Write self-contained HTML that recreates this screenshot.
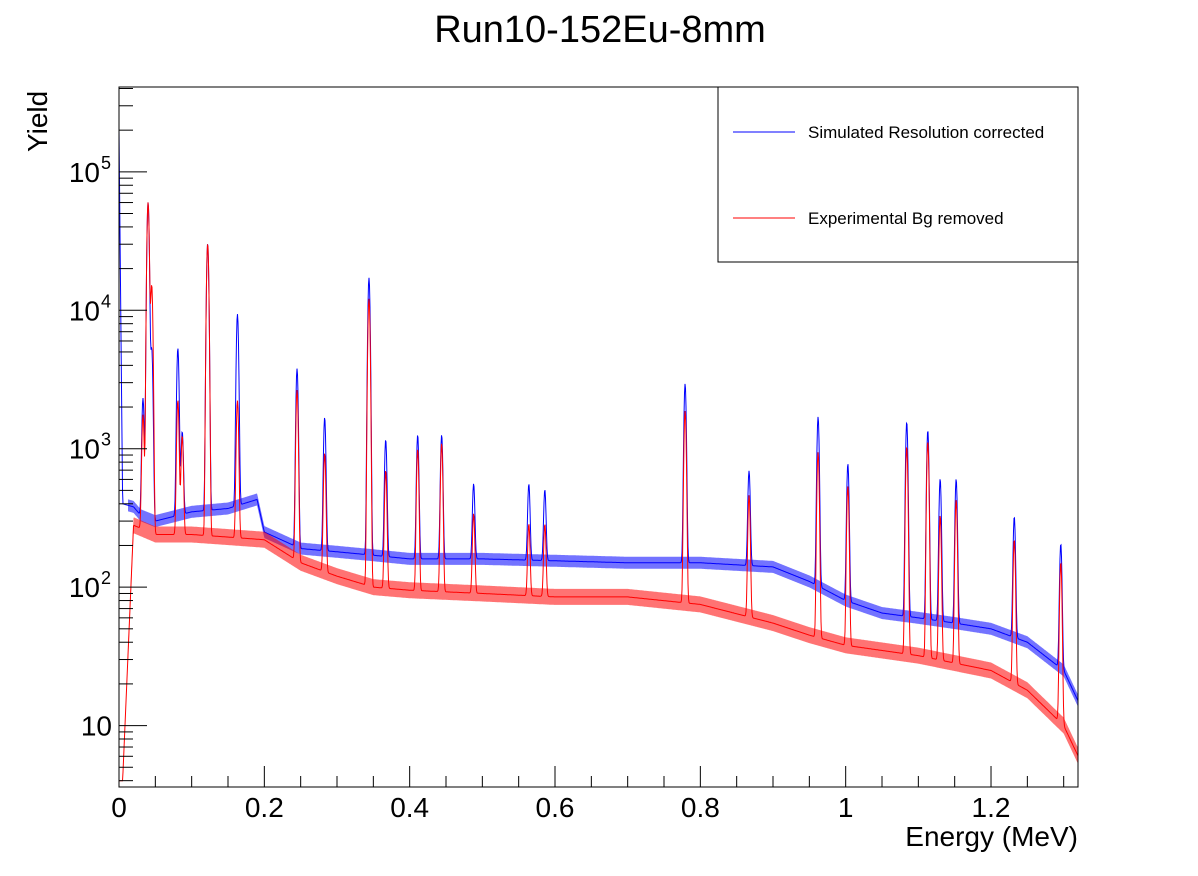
<!DOCTYPE html>
<html><head><meta charset="utf-8"><style>
body{margin:0;background:#fff;}
svg{display:block;font-family:"Liberation Sans",sans-serif;}
</style></head><body>
<svg id="chart" width="1198" height="876">
<text x="600" y="42" font-size="38" text-anchor="middle">Run10-152Eu-8mm</text>
<g id="plot"></g>
<rect x="119" y="87" width="959" height="700" fill="none" stroke="#000" stroke-width="1"/>
<g id="axes"></g>
<text x="1078" y="846" font-size="28" text-anchor="end">Energy (MeV)</text>
<text transform="translate(47,152) rotate(-90)" font-size="28">Yield</text>
<g>
<rect x="718" y="87" width="360" height="175" fill="#fff" stroke="#000"/>
<line x1="733" y1="132" x2="795" y2="132" stroke="#00f"/>
<text x="808" y="138" font-size="17">Simulated Resolution corrected</text>
<line x1="733" y1="218" x2="795" y2="218" stroke="#f00"/>
<text x="808" y="224" font-size="17">Experimental Bg removed</text>
</g>
</svg>
<script>
const blueBaseE=[0,0.005,0.02,0.03,0.05,0.1,0.15,0.19,0.2,0.25,0.3,0.35,0.4,0.5,0.6,0.7,0.8,0.9,0.95,1.0,1.05,1.1,1.15,1.2,1.25,1.3,1.32];
const blueBaseV=[2e5,400,380,330,300,350,370,430,250,190,180,170,160,160,155,150,150,140,110,80,65,60,55,50,40,25,15];
const redBaseE=[0,0.005,0.02,0.05,0.1,0.15,0.2,0.25,0.3,0.35,0.4,0.5,0.6,0.7,0.8,0.9,0.95,1.0,1.1,1.2,1.25,1.3,1.32];
const redBaseV=[4,4,280,240,240,230,220,150,120,100,95,90,85,85,75,55,45,38,32,25,18,10,6];
const peakE=[0.033,0.040,0.045,0.081,0.087,0.122,0.163,0.245,0.283,0.344,0.367,0.411,0.444,0.488,0.564,0.586,0.779,0.867,0.962,1.003,1.084,1.113,1.130,1.152,1.232,1.296];
const bluePeak=[2000,60000,5000,5000,1000,30000,9000,3600,1500,17000,1000,1100,1100,400,400,350,2800,550,1600,700,1500,1300,550,550,280,180];
const redPeak=[1500,60000,15000,2000,1000,30000,2000,2500,800,12000,600,900,1000,250,200,200,1800,400,900,500,1000,1100,300,400,200,140];
const xTicks=[0,0.2,0.4,0.6,0.8,1,1.2];
const xTickLabels=["0","0.2","0.4","0.6","0.8","1","1.2"];
const yTicks=[10,100,1000,10000,100000];
const yTickExp=["","2","3","4","5"];

const X0=119,X1=1078,Y0=787,Y1=87,XMAX=1.3197,LMIN=Math.log10(3.6),LMAX=Math.log10(4.1e5);
const sx=e=>X0+e/XMAX*(X1-X0);
const sy=v=>Y0-(Math.log10(Math.max(v,3.6))-LMIN)/(LMAX-LMIN)*(Y0-Y1);
const NS="http://www.w3.org/2000/svg";
function mk(t,a,p){const el=document.createElementNS(NS,t);for(const k in a)el.setAttribute(k,a[k]);p.appendChild(el);return el;}
function interp(E,V,e){if(e<=E[0])return V[0];for(let i=1;i<E.length;i++)if(e<=E[i]){const t=(e-E[i-1])/(E[i]-E[i-1]);return Math.pow(10,Math.log10(V[i-1])*(1-t)+Math.log10(V[i])*t);}return V[V.length-1];}
function val(E,V,P,e){let v=interp(E,V,e);const s=0.0014;for(let i=0;i<peakE.length;i++){const d=e-peakE[i];if(Math.abs(d)<0.01)v+=P[i]*Math.exp(-d*d/(2*s*s));}return v;}
const plot=document.getElementById('plot');
function series(E,V,P,color,name,band){
  let pts=[],up=[],dn=[];
  for(let px=X0;px<=X1;px+=0.5){const e=(px-X0)/(X1-X0)*XMAX;const base=interp(E,V,e);const y=sy(val(E,V,P,e));pts.push(px.toFixed(1)+','+y.toFixed(1));
    if(e>0.012){const yb=sy(base);up.push(px.toFixed(1)+','+(yb-band).toFixed(1));dn.unshift(px.toFixed(1)+','+(yb+band).toFixed(1));}}
  const b=mk('polygon',{points:up.concat(dn).join(' '),fill:color,'fill-opacity':0.55},plot);
  
  
  const l=mk('polyline',{points:pts.join(' '),fill:'none',stroke:color,'stroke-width':1},plot);
  
  
}
series(blueBaseE,blueBaseV,bluePeak,'#00f','simulated',6);
series(redBaseE,redBaseV,redPeak,'#f00','experimental',8);

const ax=document.getElementById('axes');
for(let e=0;e<=XMAX+1e-9;e+=0.05){const x=sx(e);const major=Math.abs(e/0.2-Math.round(e/0.2))<1e-6;
  const t=mk('line',{x1:x,y1:Y0,x2:x,y2:Y0-(major?21:11),stroke:'#000'},ax);
  
  }
xTicks.forEach((e,i)=>{const t=mk('text',{x:sx(e),y:817,'font-size':28,'text-anchor':'middle'},ax);t.textContent=xTickLabels[i];
  
  });
for(let d=0;d<=5;d++)for(let m=1;m<=9;m++){const v=m*Math.pow(10,d);if(v<3.6||v>4.1e5)continue;const y=sy(v);
  const t=mk('line',{x1:X0,y1:y,x2:X0+(m==1?28:14),y2:y,stroke:'#000'},ax);
  
  }
yTicks.forEach((v,i)=>{const y=sy(v);const t=mk('text',{x:i==0?112:100,y:y+10,'font-size':28,'text-anchor':'end'},ax);t.textContent='10';
  
  
  if(yTickExp[i]){const s=mk('text',{x:101,y:y-3,'font-size':18},ax);s.textContent=yTickExp[i];
  
  }});
</script>
</body></html>
